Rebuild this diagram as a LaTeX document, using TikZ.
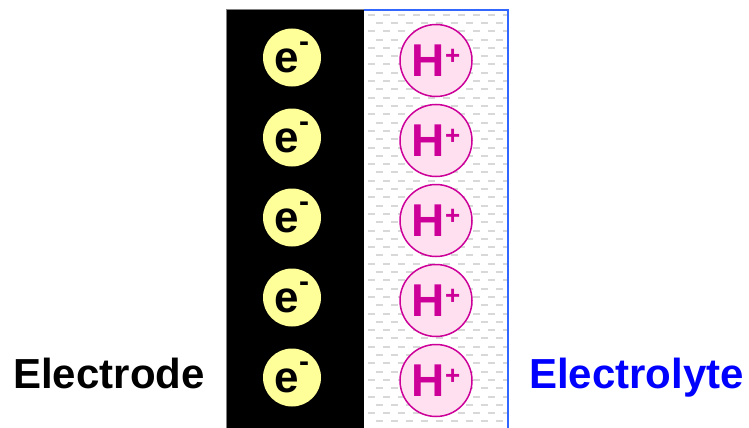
\documentclass[tikz,border=0pt]{standalone}
\usepackage{fontspec}
\setmainfont{Liberation Sans}
\definecolor{eyel}{HTML}{FFFF99}
\definecolor{hpink}{HTML}{FFE0F0}
\definecolor{hmag}{HTML}{CC0099}
\definecolor{lblue}{HTML}{3366FF}
\definecolor{dashg}{HTML}{D8D8D8}
\begin{document}
\begin{tikzpicture}[x=1pt,y=-1pt,
  electron/.style={circle,fill=eyel,minimum size=58pt,inner sep=0pt,font=\bfseries\fontsize{44}{44}\selectfont},
  proton/.style={circle,fill=hpink,draw=hmag,line width=1.5pt,minimum size=72pt,inner sep=0pt,text=hmag,font=\bfseries\fontsize{46}{46}\selectfont},
  lbl/.style={font=\bfseries\fontsize{42}{42}\selectfont,inner sep=0pt,anchor=base}]
\useasboundingbox (0,0) rectangle (749,428);
% electrode
\fill[black] (226.5,9.5) rectangle (364,428);
\draw[gray,line width=0.6pt] (226.5,428) -- (226.5,9.5) -- (364,9.5);
% electrolyte pattern
\begin{scope}
\clip (364,10) rectangle (507.5,428);
\foreach \k in {0,...,50}{
  \pgfmathsetmacro{\yy}{14.7+8.3*\k}
  \pgfmathsetmacro{\ph}{mod(\k,2)*7.5}
  \draw[dashg,line width=2pt,dash pattern=on 7pt off 8pt,dash phase=\ph pt] (368,\yy) -- (512,\yy);
}
\end{scope}
\draw[lblue,line width=2pt] (364,10) -- (507.5,10) -- (507.5,428);
% charges
\foreach \i in {0,...,4}{
  \node[electron] (e\i) at (292,57.5+80*\i) {e\raisebox{0.9ex}{\fontsize{30}{30}\selectfont -}};
  \node[proton] (h\i) at (436,60.5+80*\i) {H\raisebox{0.5ex}{\fontsize{26}{26}\selectfont +}};
}
% labels
\node[lbl] (electrode) at (109,388) {Electrode};
\node[lbl,text=blue] (electrolyte) at (636.5,388) {Electrolyte};
\end{tikzpicture}
\end{document}
